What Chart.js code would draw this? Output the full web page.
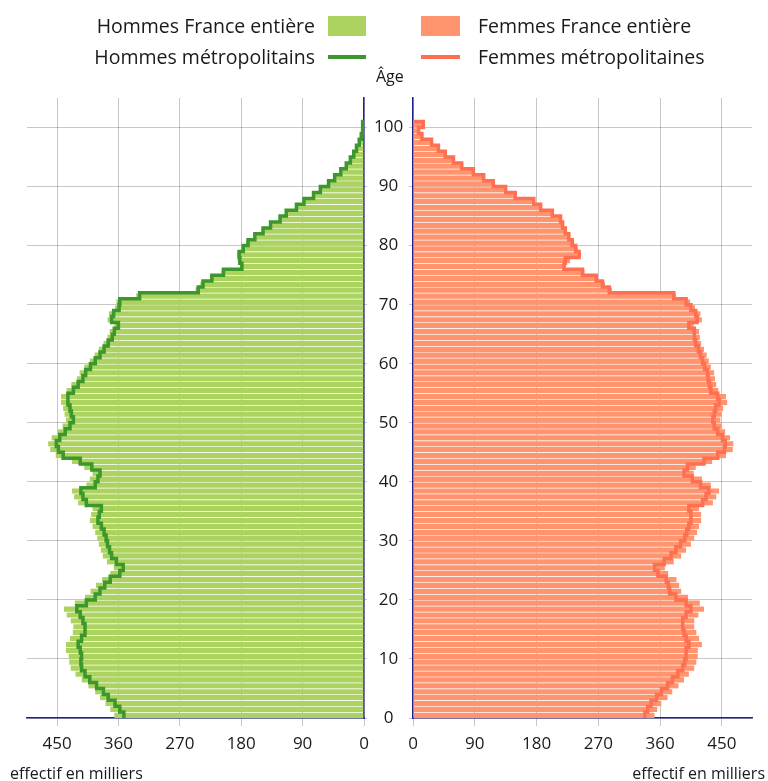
<!DOCTYPE html>
<html>
<head>
<meta charset="utf-8">
<title>Pyramide des âges</title>
<script src="https://cdn.jsdelivr.net/npm/chart.js@4.4.1/dist/chart.umd.min.js"></script>
<style>
  body { margin: 0; background: #fff; font-family: 'Open Sans', sans-serif; color: #1a1a1a; }
  #wrap { position: relative; width: 768px; height: 781px; overflow: hidden; }
  canvas { position: absolute; top: 0; }
  .txt { position: absolute; white-space: nowrap; }
  .leg { font-size: 19.5px; line-height: 26px; }
  .small { font-size: 16px; line-height: 22px; }
  .sw { position: absolute; }
</style>
</head>
<body>
<div id="wrap">
  <canvas id="hommes" width="412" height="781" style="left:0"></canvas>
  <canvas id="femmes" width="368" height="781" style="left:400px"></canvas>

  <!-- légende -->
  <div class="txt leg" style="right:453px; top:13px">Hommes France entière</div>
  <div class="sw" style="left:328px; top:16px; width:38px; height:20px; background:#acd360"></div>
  <div class="txt leg" style="right:453px; top:44px">Hommes métropolitains</div>
  <div class="sw" style="left:328px; top:55px; width:38px; height:4px; background:#3c972c"></div>

  <div class="sw" style="left:421px; top:16px; width:39px; height:20px; background:#ff946f"></div>
  <div class="txt leg" style="left:478px; top:13px">Femmes France entière</div>
  <div class="sw" style="left:421px; top:55px; width:39px; height:4px; background:#ff6f52"></div>
  <div class="txt leg" style="left:478px; top:44px">Femmes métropolitaines</div>

  <div class="txt small" style="left:376px; top:65px">Âge</div>
  <div class="txt small" style="left:10px; top:762px">effectif en milliers</div>
  <div class="txt small" style="right:3px; top:762px">effectif en milliers</div>
</div>

<script>
// ages 0 to 100 (100 = 100 ans et plus)
const ages = [
  0, 1, 2, 3, 4, 5, 6, 7, 8, 9,
  10, 11, 12, 13, 14, 15, 16, 17, 18, 19,
  20, 21, 22, 23, 24, 25, 26, 27, 28, 29,
  30, 31, 32, 33, 34, 35, 36, 37, 38, 39,
  40, 41, 42, 43, 44, 45, 46, 47, 48, 49,
  50, 51, 52, 53, 54, 55, 56, 57, 58, 59,
  60, 61, 62, 63, 64, 65, 66, 67, 68, 69,
  70, 71, 72, 73, 74, 75, 76, 77, 78, 79,
  80, 81, 82, 83, 84, 85, 86, 87, 88, 89,
  90, 91, 92, 93, 94, 95, 96, 97, 98, 99,
  100
];

// effectifs en milliers
const hommesFrance = [
  366, 372, 379, 387, 394, 404, 414, 423, 430, 432,
  433, 437, 437, 431, 427, 426, 430, 436, 440, 424,
  409, 401, 393, 384, 372, 367, 377, 383, 386, 389,
  391, 394, 398, 402, 400, 398, 419, 425, 428, 407,
  402, 398, 410, 428, 452, 460, 463, 458, 449, 442,
  437, 439, 441, 444, 444, 436, 429, 421, 417, 410,
  402, 395, 389, 382, 376, 373, 366, 376, 374, 365,
  363, 334, 247, 240, 226, 209, 182, 185, 186, 180,
  173, 162, 150, 139, 125, 116, 101, 89, 75, 65,
  53, 44, 35, 27, 20, 15, 11, 7, 4, 2,
  3
];
const hommesMetro = [
  352, 358, 365, 375, 382, 392, 402, 409, 414, 415,
  414, 416, 419, 414, 409, 409, 412, 416, 421, 407,
  394, 387, 380, 372, 358, 353, 363, 370, 373, 376,
  378, 381, 385, 390, 388, 385, 407, 412, 415, 394,
  390, 387, 399, 416, 441, 448, 451, 446, 438, 431,
  426, 429, 431, 434, 434, 426, 419, 412, 408, 401,
  394, 387, 381, 375, 369, 366, 360, 370, 367, 359,
  358, 329, 243, 236, 223, 206, 179, 182, 183, 177,
  170, 160, 148, 137, 123, 114, 99, 88, 74, 64,
  52, 43, 34, 26, 20, 15, 11, 7, 4, 2,
  2
];
const femmesFrance = [
  352, 356, 362, 371, 378, 387, 395, 402, 410, 413,
  415, 415, 421, 417, 413, 410, 410, 416, 424, 418,
  401, 391, 388, 384, 372, 367, 380, 391, 398, 405,
  410, 414, 417, 420, 420, 417, 437, 442, 446, 434,
  421, 409, 412, 436, 456, 466, 467, 462, 455, 450,
  448, 450, 452, 458, 456, 445, 442, 440, 439, 434,
  431, 428, 424, 420, 418, 417, 409, 421, 419, 411,
  404, 383, 290, 280, 270, 250, 223, 229, 245, 240,
  235, 229, 224, 220, 217, 205, 188, 177, 150, 136,
  118, 104, 89, 72, 60, 48, 38, 28, 14, 9,
  16
];
const femmesMetro = [
  338, 342, 347, 355, 362, 371, 378, 386, 393, 396,
  398, 398, 402, 398, 395, 393, 393, 398, 405, 398,
  383, 374, 372, 369, 357, 352, 366, 376, 383, 390,
  396, 399, 402, 405, 405, 402, 422, 427, 431, 419,
  407, 395, 400, 424, 444, 454, 455, 451, 444, 439,
  437, 439, 441, 446, 444, 434, 432, 430, 429, 425,
  422, 419, 416, 412, 410, 410, 402, 414, 412, 405,
  398, 380, 286, 276, 267, 247, 220, 222, 242, 237,
  232, 227, 222, 218, 215, 203, 186, 176, 149, 135,
  117, 103, 88, 71, 59, 47, 37, 27, 13, 8,
  15
];

const effectifTicks = [0, 90, 180, 270, 360, 450];
const ageTicks = [0, 10, 20, 30, 40, 50, 60, 70, 80, 90, 100];

const axisBlue = '#20208f';
const gridGrey = 'rgba(0,0,0,0.22)';
const tickFont = { family: "'Open Sans', sans-serif", size: 17 };

// one bar per year of age, from age to age+1
function barPoints(values) {
  return values.map((v, i) => ({ x: v, y: ages[i] + 0.5 }));
}

// stepped outline following the bars
function linePoints(values) {
  const pts = [{ x: values[0], y: ages[0] }];
  values.forEach((v, i) => pts.push({ x: v, y: ages[i] + 1 }));
  pts.push({ x: 0, y: ages[ages.length - 1] + 1 });
  return pts;
}

function buildSide(canvasId, franceVals, metroVals, barColor, lineColor, isLeft) {
  const ctx = document.getElementById(canvasId).getContext('2d');
  return new Chart(ctx, {
    type: 'bar',
    data: {
      datasets: [
        {
          type: 'line',
          data: linePoints(metroVals),
          borderColor: lineColor,
          borderWidth: 3.5,
          pointRadius: 0,
          stepped: true,
          fill: false,
          order: 1
        },
        {
          type: 'bar',
          data: barPoints(franceVals),
          backgroundColor: barColor,
          borderColor: 'rgba(255,255,255,0.14)',
          borderWidth: { top: 1, bottom: 0, left: 0, right: 0 },
          borderSkipped: false,
          barPercentage: 1,
          categoryPercentage: 1,
          order: 2
        }
      ]
    },
    options: {
      indexAxis: 'y',
      responsive: false,
      animation: false,
      layout: {
        padding: isLeft ? { left: 27, top: 98, right: 0, bottom: 0 }
                        : { left: 0, top: 98, right: 16, bottom: 0 }
      },
      plugins: {
        legend: { display: false },
        tooltip: { enabled: false }
      },
      scales: {
        x: {
          type: 'linear',
          min: 0,
          max: 494,
          reverse: isLeft,
          offset: false,
          z: 1,
          grid: { color: gridGrey, tickLength: 8, offset: false },
          border: { color: axisBlue, width: 1.5 },
          ticks: { font: tickFont, color: '#1a1a1a', padding: 8, maxRotation: 0 },
          afterBuildTicks: (scale) => { scale.ticks = effectifTicks.map(v => ({ value: v })); },
          afterFit: (scale) => { scale.height = 63; }
        },
        y: {
          type: 'linear',
          min: 0,
          max: 105,
          position: isLeft ? 'right' : 'left',
          offset: false,
          z: 1,
          grid: { color: gridGrey, tickLength: isLeft ? 3 : 4, offset: false },
          border: { color: axisBlue, width: 1.5 },
          ticks: {
            display: isLeft,
            font: tickFont,
            color: '#1a1a1a',
            padding: 7,
            crossAlign: 'center'
          },
          afterBuildTicks: (scale) => { scale.ticks = ageTicks.map(v => ({ value: v })); },
          afterFit: (scale) => { scale.width = isLeft ? 48 : 13; }
        }
      }
    }
  });
}

buildSide('hommes', hommesFrance, hommesMetro, '#acd360', '#3c972c', true);
buildSide('femmes', femmesFrance, femmesMetro, '#ff946f', '#ff6f52', false);
</script>
</body>
</html>
